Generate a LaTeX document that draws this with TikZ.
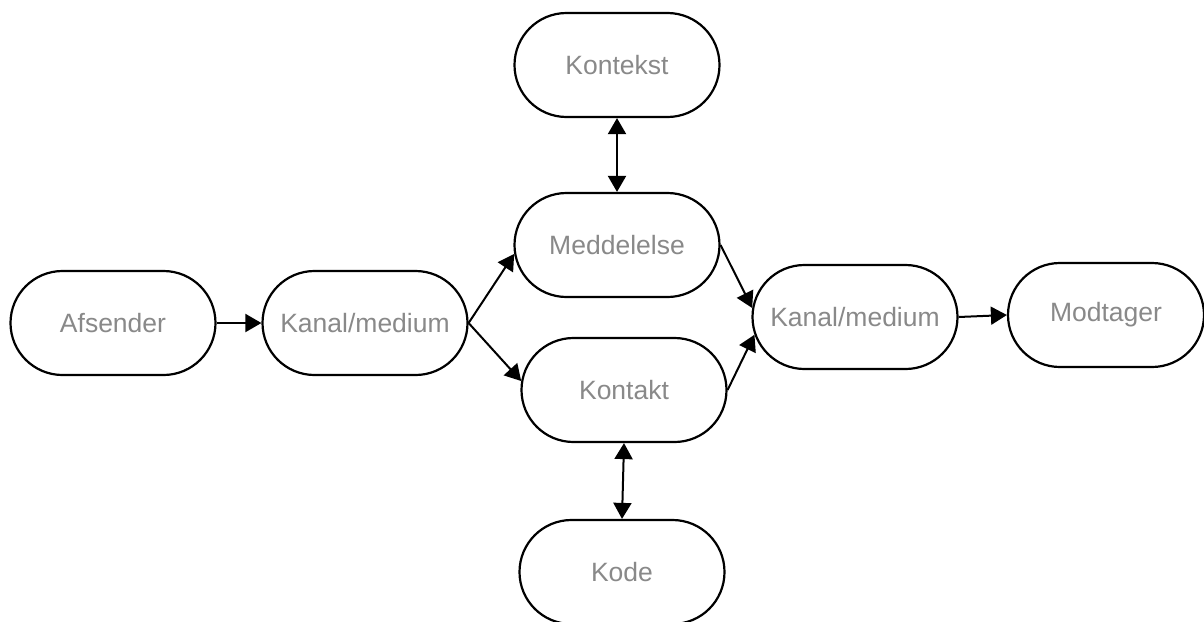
\documentclass[tikz,border=0pt]{standalone}
\usepackage{fontspec}
\setmainfont{Liberation Sans}
\usetikzlibrary{shapes.misc,arrows.meta}
\definecolor{txtgray}{RGB}{137,137,137}
\tikzset{
  pill/.style={rounded rectangle, draw=black, line width=2.2pt, fill=white,
    minimum width=205pt, minimum height=104pt, inner sep=0pt,
    text=txtgray, font=\fontsize{26.5}{30}\selectfont},
  conn/.style={line width=2pt, -{Triangle[length=16pt,width=18pt]}},
  biconn/.style={line width=2pt, {Triangle[length=16pt,width=18pt]}-{Triangle[length=16pt,width=18pt]}}
}
\begin{document}
\begin{tikzpicture}[x=1pt,y=-1pt]
\useasboundingbox (0,0) rectangle (1204,621);
\node[pill] (kontekst) at (617,65) {Kontekst};
\node[pill] (medd) at (617,245) {Meddelelse};
\node[pill] (afs) at (113,323) {Afsender};
\node[pill] (kl) at (365,323) {Kanal/medium};
\node[pill] (kontakt) at (624,390) {Kontakt};
\node[pill] (kr) at (855,317) {Kanal/medium};
\node[pill, minimum width=196pt] (modt) at (1106,315) {Modtager};
\node[pill] (kode) at (622,572) {Kode};
\draw[biconn] (kontekst.south) -- (medd.north);
\draw[biconn] (kontakt.south) -- (kode.north);
\draw[conn] (afs.east) -- (kl.west);
\draw[conn] (kl.east) -- (medd.185);
\draw[conn] (kl.east) -- (kontakt.175);
\draw[conn] (medd.east) -- (kr.175);
\draw[conn] (kontakt.east) -- (kr.190);
\draw[conn] (kr.east) -- (modt.west);
\end{tikzpicture}
\end{document}
